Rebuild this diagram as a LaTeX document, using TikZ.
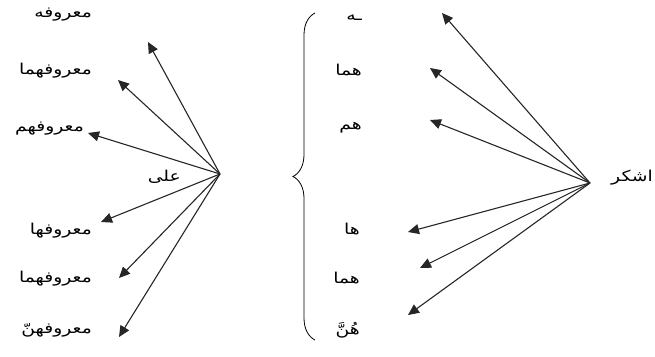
\documentclass[tikz,border=0pt]{standalone}
\usepackage{fontspec}
\TeXXeTstate=1
\newfontfamily\arabicfont[Script=Arabic,FakeStretch=1.25]{DejaVu Sans}
\usetikzlibrary{arrows.meta,decorations.pathreplacing}
\tikzset{
  lbl/.style={font=\arabicfont\fontsize{15}{18}\selectfont, inner sep=0pt, anchor=east},
  arr/.style={-{Triangle[length=11pt,width=10pt]}, line width=1.1pt, draw=black!85},
}
\begin{document}
\begin{tikzpicture}[x=1pt,y=-1pt]
\useasboundingbox (0,0) rectangle (655,356);
% left group
\coordinate (L) at (220,174);
\coordinate (l1) at (148,42);
\coordinate (l2) at (118,80);
\coordinate (l3) at (88,133);
\coordinate (l4) at (101,222);
\coordinate (l5) at (119,278);
\coordinate (l6) at (119,337);
\foreach \t in {l1,l2,l3,l4,l5,l6} \draw[arr] (L) -- (\t);
\node[lbl] (a1) at (92,15) {\beginR معروفه\endR};
\node[lbl] (a2) at (92,71) {\beginR معروفهما\endR};
\node[lbl] (a3) at (84,129) {\beginR معروفهم\endR};
\node[lbl] (a4) at (181,177) {\beginR على\endR};
\node[lbl] (a5) at (92,231) {\beginR معروفها\endR};
\node[lbl] (a6) at (92,279) {\beginR معروفهما\endR};
\node[lbl] (a7) at (92,330) {\beginR معروفهنّ\endR};
% brace
\draw[line width=0.8pt, decorate, decoration={brace, amplitude=22pt}]
  (315,340) -- (315,13);
% right group
\coordinate (R) at (590,183);
\coordinate (r1) at (442,13);
\coordinate (r2) at (430,68);
\coordinate (r3) at (430,120);
\coordinate (r4) at (408,232);
\coordinate (r5) at (420,268);
\coordinate (r6) at (408,315);
\foreach \t in {r1,r2,r3,r4,r5,r6} \draw[arr] (R) -- (\t);
\node[lbl] (b1) at (362,18) {\beginR ـه\endR};
\node[lbl] (b2) at (362,70) {\beginR هما\endR};
\node[lbl] (b3) at (362,128) {\beginR هم\endR};
\node[lbl] (b4) at (360,229) {\beginR ها\endR};
\node[lbl] (b5) at (360,278) {\beginR هما\endR};
\node[lbl] (b6) at (360,330) {\beginR هُنَّ\endR};
\node[lbl] (k) at (653,178) {\beginR اشكر\endR};
\end{tikzpicture}
\end{document}
